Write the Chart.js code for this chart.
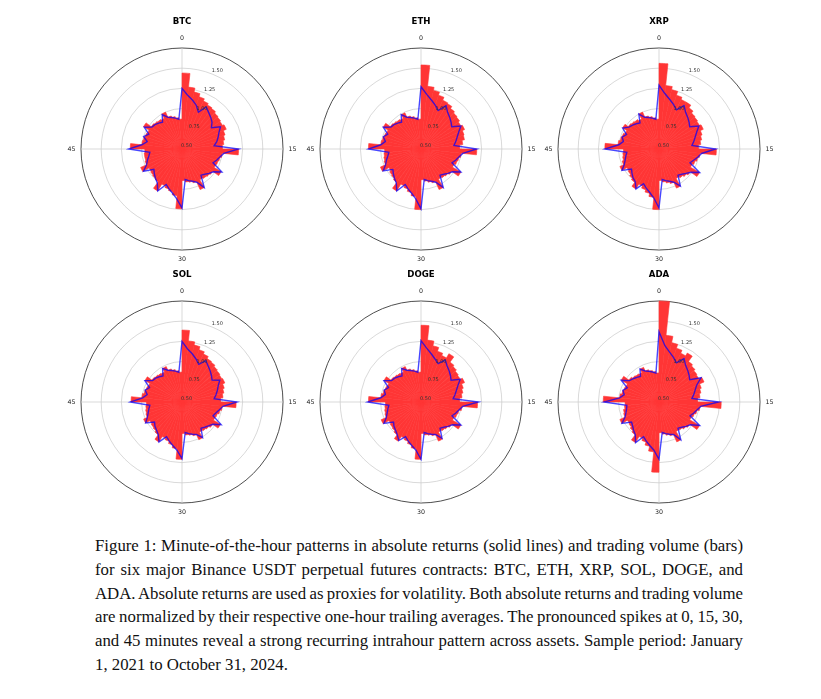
<!DOCTYPE html>
<html>
<head>
<meta charset="utf-8">
<script src="https://cdn.jsdelivr.net/npm/chart.js@4.4.1/dist/chart.umd.min.js"></script>
<style>
  html, body { margin: 0; padding: 0; background: #fff; }
  body { width: 821px; height: 699px; position: relative; overflow: hidden; }
  .plot { position: absolute; }
  .caption { position: absolute; left: 95px; width: 648px; top: 534px;
    font-family: "Liberation Serif", "Times New Roman", serif; font-size: 16.8px; color: #111; }
  .caption div { height: 23.8px; line-height: 23.8px; white-space: nowrap; }
  .caption span { white-space: nowrap; }
</style>
</head>
<body>
<canvas id="c0" class="plot" width="242" height="262"></canvas>
<canvas id="c1" class="plot" width="242" height="262"></canvas>
<canvas id="c2" class="plot" width="242" height="262"></canvas>
<canvas id="c3" class="plot" width="242" height="262"></canvas>
<canvas id="c4" class="plot" width="242" height="262"></canvas>
<canvas id="c5" class="plot" width="242" height="262"></canvas>
<div class="caption" id="caption">
  <div><span>Figure 1: Minute-of-the-hour patterns in absolute returns (solid lines) and trading volume (bars)</span></div>
  <div><span>for six major Binance USDT perpetual futures contracts: BTC, ETH, XRP, SOL, DOGE, and</span></div>
  <div><span>ADA. Absolute returns are used as proxies for volatility. Both absolute returns and trading volume</span></div>
  <div><span>are normalized by their respective one-hour trailing averages. The pronounced spikes at 0, 15, 30,</span></div>
  <div><span>and 45 minutes reveal a strong recurring intrahour pattern across assets. Sample period: January</span></div>
  <div class="last"><span>1, 2021 to October 31, 2024.</span></div>
</div>
<script>
// minute of the hour (categories)
const minutes = [0, 1, 2, 3, 4, 5, 6, 7, 8, 9, 10, 11, 12, 13, 14, 15, 16, 17, 18, 19,
  20, 21, 22, 23, 24, 25, 26, 27, 28, 29, 30, 31, 32, 33, 34, 35, 36, 37, 38, 39,
  40, 41, 42, 43, 44, 45, 46, 47, 48, 49, 50, 51, 52, 53, 54, 55, 56, 57, 58, 59];
const assets = ["BTC", "ETH", "XRP", "SOL", "DOGE", "ADA"];
const radialTicks = [0.50, 0.75, 1.00, 1.25, 1.50];
const angleTickLabels = ["0", "15", "30", "45"];

// normalized trading volume (bars)
const btcVol = [1.44, 1.27, 1.22, 1.18, 1.15, 1.13, 1.12, 1.10, 1.09, 1.08, 1.10, 1.06, 1.04, 1.02, 1.00,
  1.20, 1.00, 0.98, 0.97, 0.96, 1.06, 0.97, 0.96, 0.95, 0.94, 1.05, 0.94, 0.92, 0.91, 0.89,
  1.24, 1.08, 1.04, 1.02, 1.00, 1.10, 1.00, 0.99, 0.98, 0.97, 1.06, 0.98, 0.97, 0.97, 0.96,
  1.14, 1.00, 0.99, 0.98, 0.97, 1.05, 0.97, 0.96, 0.95, 0.94, 1.00, 0.93, 0.91, 0.89, 0.87];
const ethVol = [1.54, 1.28, 1.24, 1.20, 1.16, 1.15, 1.12, 1.10, 1.09, 1.07, 1.09, 1.06, 1.05, 1.02, 0.98,
  1.19, 1.00, 0.98, 0.97, 0.95, 1.07, 0.97, 0.95, 0.94, 0.93, 1.05, 0.94, 0.92, 0.90, 0.88,
  1.25, 1.09, 1.05, 1.02, 1.00, 1.10, 1.01, 0.99, 0.98, 0.96, 1.05, 0.98, 0.97, 0.96, 0.95,
  1.15, 1.00, 0.99, 0.98, 0.97, 1.04, 0.97, 0.96, 0.95, 0.94, 0.99, 0.93, 0.91, 0.89, 0.87];
const xrpVol = [1.56, 1.29, 1.25, 1.20, 1.17, 1.17, 1.13, 1.10, 1.09, 1.08, 1.10, 1.06, 1.04, 1.02, 0.99,
  1.21, 1.01, 0.99, 0.97, 0.95, 1.08, 0.98, 0.96, 0.94, 0.92, 1.03, 0.95, 0.93, 0.91, 0.89,
  1.25, 1.10, 1.06, 1.03, 1.00, 1.07, 1.01, 0.99, 0.97, 0.96, 1.03, 0.98, 0.96, 0.95, 0.94,
  1.17, 1.01, 0.99, 0.98, 0.96, 1.02, 0.97, 0.96, 0.95, 0.93, 1.00, 0.93, 0.91, 0.89, 0.87];
const solVol = [1.39, 1.26, 1.22, 1.18, 1.15, 1.12, 1.11, 1.09, 1.08, 1.07, 1.08, 1.05, 1.03, 1.01, 0.98,
  1.17, 1.00, 0.98, 0.96, 0.95, 1.05, 0.97, 0.95, 0.94, 0.93, 1.01, 0.94, 0.92, 0.91, 0.89,
  1.21, 1.08, 1.04, 1.01, 0.99, 1.07, 1.00, 0.98, 0.97, 0.96, 1.02, 0.97, 0.96, 0.95, 0.94,
  1.13, 1.00, 0.98, 0.97, 0.96, 1.03, 0.96, 0.95, 0.94, 0.93, 0.98, 0.93, 0.91, 0.89, 0.87];
const dogeVol = [1.45, 1.27, 1.21, 1.16, 1.13, 1.19, 1.11, 1.09, 1.07, 1.06, 1.09, 1.05, 1.03, 1.01, 0.98,
  1.20, 1.01, 0.98, 0.97, 0.95, 1.07, 0.97, 0.95, 0.94, 0.93, 1.03, 0.94, 0.92, 0.91, 0.89,
  1.21, 1.08, 1.04, 1.01, 0.99, 1.06, 1.00, 0.98, 0.97, 0.96, 1.04, 0.97, 0.96, 0.95, 0.94,
  1.15, 1.00, 0.98, 0.97, 0.96, 1.03, 0.96, 0.95, 0.94, 0.93, 0.98, 0.93, 0.91, 0.89, 0.87];
const adaVol = [1.75, 1.33, 1.25, 1.20, 1.16, 1.20, 1.12, 1.10, 1.08, 1.07, 1.11, 1.05, 1.03, 1.01, 0.98,
  1.27, 1.01, 0.98, 0.96, 0.94, 1.08, 0.97, 0.95, 0.93, 0.92, 1.04, 0.94, 0.92, 0.90, 0.88,
  1.37, 1.12, 1.06, 1.02, 0.99, 1.08, 1.00, 0.98, 0.96, 0.95, 1.03, 0.96, 0.95, 0.93, 0.92,
  1.19, 0.99, 0.97, 0.96, 0.95, 1.04, 0.96, 0.94, 0.93, 0.92, 0.97, 0.92, 0.90, 0.88, 0.86];

// normalized absolute returns (lines)
const btcRet = [1.25, 1.17, 1.12, 1.07, 1.00, 1.10, 1.06, 1.03, 1.00, 0.95, 1.05, 1.00, 0.97, 0.94, 0.90,
  1.20, 1.02, 0.98, 0.95, 0.92, 1.07, 0.98, 0.95, 0.92, 0.90, 1.05, 0.95, 0.92, 0.90, 0.88,
  1.23, 1.12, 1.06, 1.02, 0.98, 1.10, 1.02, 0.99, 0.96, 0.93, 1.05, 0.98, 0.95, 0.92, 0.90,
  1.16, 1.00, 0.94, 1.00, 0.95, 1.04, 0.96, 0.95, 0.93, 0.91, 0.99, 0.93, 0.91, 0.89, 0.87];
const ethRet = [1.27, 1.18, 1.12, 1.07, 1.02, 1.12, 1.06, 1.03, 1.00, 0.97, 1.07, 1.01, 0.97, 0.94, 0.91,
  1.19, 1.02, 0.98, 0.95, 0.92, 1.07, 0.98, 0.95, 0.92, 0.90, 1.05, 0.95, 0.92, 0.90, 0.88,
  1.24, 1.12, 1.06, 1.02, 0.98, 1.10, 1.02, 0.99, 0.96, 0.93, 1.04, 0.98, 0.95, 0.92, 0.90,
  1.15, 1.00, 0.95, 0.99, 0.95, 1.04, 0.96, 0.95, 0.93, 0.91, 0.99, 0.93, 0.91, 0.89, 0.87];
const xrpRet = [1.29, 1.19, 1.13, 1.08, 1.03, 1.12, 1.06, 1.03, 1.00, 0.97, 1.07, 1.01, 0.97, 0.94, 0.91,
  1.20, 1.03, 0.99, 0.95, 0.92, 1.08, 0.99, 0.95, 0.92, 0.90, 1.03, 0.95, 0.92, 0.90, 0.88,
  1.23, 1.11, 1.05, 1.01, 0.97, 1.07, 1.00, 0.98, 0.95, 0.92, 1.03, 0.97, 0.94, 0.92, 0.90,
  1.17, 1.00, 0.95, 0.98, 0.94, 1.02, 0.96, 0.94, 0.92, 0.90, 1.00, 0.93, 0.91, 0.89, 0.87];
const solRet = [1.25, 1.16, 1.11, 1.06, 1.01, 1.09, 1.05, 1.02, 0.99, 0.96, 1.04, 0.99, 0.96, 0.93, 0.90,
  1.18, 1.01, 0.97, 0.94, 0.92, 1.06, 0.97, 0.94, 0.92, 0.90, 1.01, 0.94, 0.92, 0.90, 0.88,
  1.20, 1.10, 1.05, 1.01, 0.97, 1.07, 1.00, 0.97, 0.95, 0.92, 1.02, 0.97, 0.94, 0.92, 0.90,
  1.14, 0.99, 0.94, 0.98, 0.94, 1.03, 0.95, 0.94, 0.92, 0.90, 0.98, 0.93, 0.91, 0.89, 0.87];
const dogeRet = [1.26, 1.17, 1.11, 1.06, 1.02, 1.10, 1.05, 1.02, 0.99, 0.96, 1.06, 1.00, 0.96, 0.93, 0.90,
  1.21, 1.02, 0.98, 0.95, 0.92, 1.07, 0.98, 0.95, 0.92, 0.90, 1.02, 0.94, 0.92, 0.90, 0.88,
  1.21, 1.10, 1.05, 1.01, 0.97, 1.05, 1.00, 0.97, 0.95, 0.92, 1.03, 0.97, 0.94, 0.92, 0.90,
  1.16, 1.00, 0.95, 0.98, 0.94, 1.03, 0.95, 0.94, 0.92, 0.90, 0.98, 0.93, 0.91, 0.89, 0.87];
const adaRet = [1.37, 1.20, 1.13, 1.08, 1.03, 1.12, 1.06, 1.03, 1.00, 0.97, 1.10, 1.01, 0.97, 0.94, 0.91,
  1.24, 1.02, 0.98, 0.95, 0.92, 1.08, 0.98, 0.95, 0.92, 0.90, 1.04, 0.94, 0.92, 0.90, 0.88,
  1.21, 1.10, 1.05, 1.01, 0.97, 1.08, 1.00, 0.97, 0.94, 0.92, 1.03, 0.96, 0.93, 0.91, 0.90,
  1.18, 0.99, 0.94, 0.97, 0.93, 1.04, 0.95, 0.93, 0.91, 0.89, 0.97, 0.92, 0.90, 0.88, 0.86];

const volumes = [btcVol, ethVol, xrpVol, solVol, dogeVol, adaVol];
const returns = [btcRet, ethRet, xrpRet, solRet, dogeRet, adaRet];

// plot centres on the page
const centers = [[182, 149], [421, 149], [659, 149], [182, 402], [421, 402], [659, 402]];
const PAD = { left: 20, right: 20, top: 40, bottom: 20 };

// justify caption lines to the text block width (like the LaTeX paragraph)
document.querySelectorAll('#caption div').forEach(div => {
    if (div.classList.contains('last')) return;
    const span = div.querySelector('span');
    const spaces = (span.textContent.match(/ /g) || []).length;
    const extra = 648 - span.getBoundingClientRect().width;
    span.style.wordSpacing = (extra / spaces) + 'px';
});

// matplotlib draws the grid over the bars but under the line:
// skip the line in the normal pass and draw it after the grid (scale z=1)
const lineOnTop = {
    id: 'lineOnTop',
    beforeDatasetDraw(chart, args) {
        if (args.index === 0) return false;
    },
    afterDraw(chart) {
        const ctx = chart.ctx;
        ctx.save();
        chart.getDatasetMeta(0).controller.draw();
        ctx.restore();
    }
};

// titles, angle labels and radial tick labels placed like matplotlib's
const textPlugin = {
    id: 'polarText',
    afterDraw(chart) {
        const scale = chart.scales.r;
        const ctx = chart.ctx;
        const cx = scale.xCenter, cy = scale.yCenter, R = scale.drawingArea;
        ctx.save();
        ctx.textAlign = 'center';
        ctx.textBaseline = 'middle';

        // radial ticks at 22.5 degrees
        ctx.fillStyle = '#333';
        ctx.font = '5px "DejaVu Sans"';
        const a = 22.5 * Math.PI / 180;
        radialTicks.forEach(v => {
            const d = scale.getDistanceFromCenterForValue(v);
            ctx.fillText(v.toFixed(2), cx + d * Math.sin(a) + 4.5, cy - d * Math.cos(a) - 3.3);
        });

        // minute labels
        ctx.fillStyle = '#222';
        ctx.font = '6.3px "DejaVu Sans"';
        angleTickLabels.forEach((lab, i) => {
            const p = scale.getPointPosition(i * 15, R + 9.5);
            ctx.fillText(lab, p.x, p.y);
        });

        // title
        ctx.fillStyle = '#000';
        ctx.font = 'bold 8.6px "DejaVu Sans"';
        ctx.fillText(chart.options.plugins.polarText.title, cx, cy - 127.5);
        ctx.restore();
    }
};

assets.forEach((name, k) => {
    const canvas = document.getElementById('c' + k);
    canvas.style.left = (centers[k][0] - 121) + 'px';
    canvas.style.top = (centers[k][1] - 141) + 'px';

    new Chart(canvas, {
        type: 'polarArea',
        data: {
            labels: minutes,
            datasets: [
                {
                    type: 'radar',
                    label: 'Absolute returns',
                    data: returns[k],
                    borderColor: 'rgba(0, 0, 255, 0.72)',
                    borderWidth: 1.4,
                    pointRadius: 0,
                    fill: false,
                    tension: 0,
                    order: 0
                },
                {
                    label: 'Volume',
                    data: volumes[k],
                    backgroundColor: '#ff3535',
                    borderColor: '#ff3535',
                    borderWidth: 0.6,
                    order: 1
                }
            ]
        },
        options: {
            responsive: false,
            maintainAspectRatio: false,
            animation: false,
            events: [],
            layout: { padding: PAD },
            plugins: {
                legend: { display: false },
                tooltip: { enabled: false },
                polarText: { title: name }
            },
            scales: {
                r: {
                    z: 1,
                    min: 0.5,
                    max: 1.75,
                    startAngle: 0,
                    ticks: { display: false, stepSize: 0.25 },
                    pointLabels: { display: false },
                    grid: {
                        circular: true,
                        color: c => (c.tick && c.tick.value >= 1.75) ? '#3a3a3a' : '#c9c9c9',
                        lineWidth: c => (c.tick && c.tick.value >= 1.75) ? 0.9 : 0.7
                    },
                    angleLines: {
                        display: true,
                        color: '#c9c9c9',
                        lineWidth: c => c.index % 15 === 0 ? 0.7 : 0
                    }
                }
            }
        },
        plugins: [lineOnTop, textPlugin]
    });
});
</script>
</body>
</html>
